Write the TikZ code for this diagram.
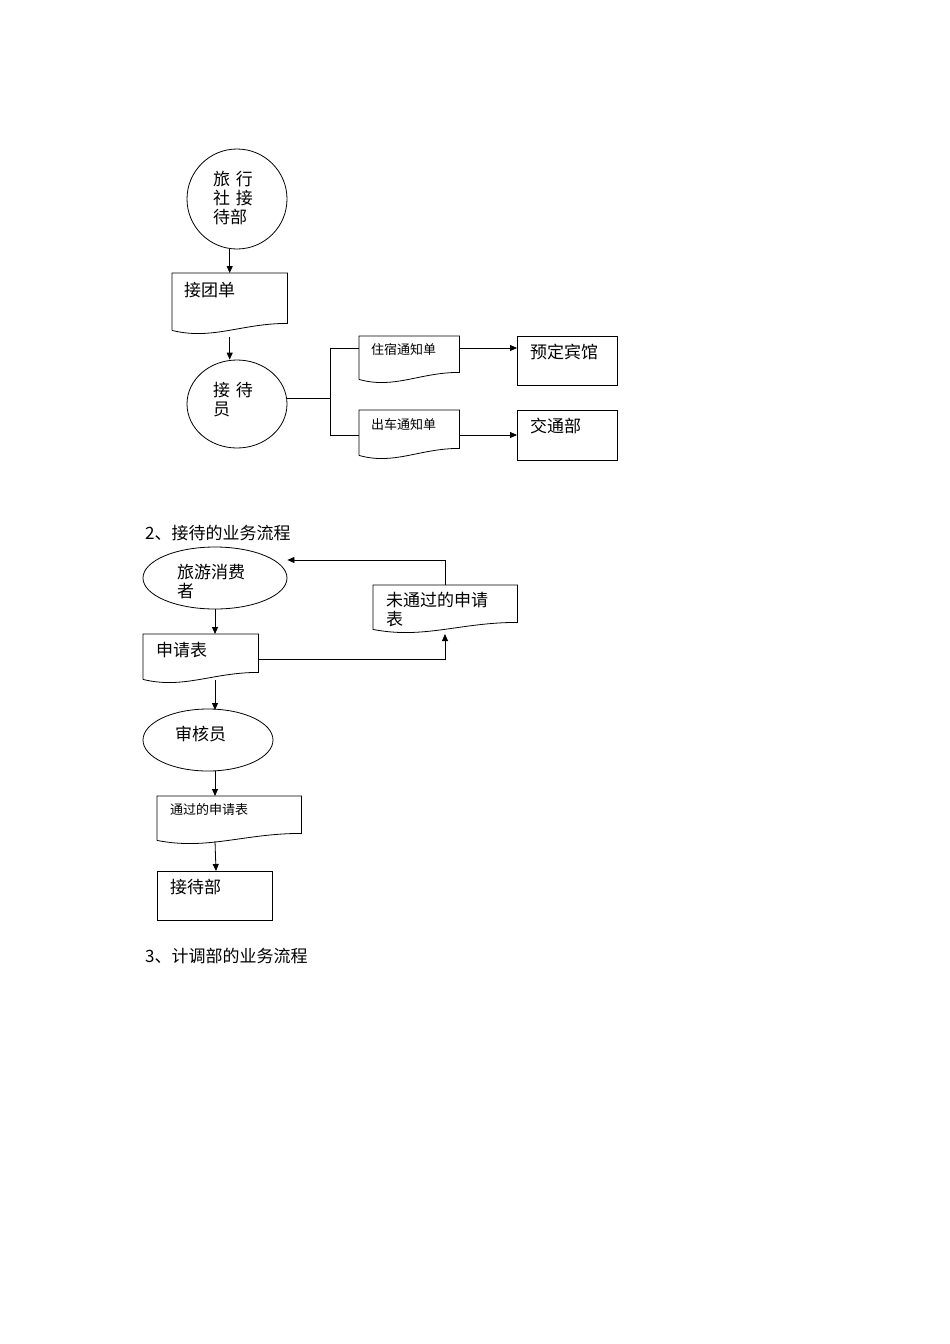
\documentclass[tikz,border=0pt]{standalone}
\usepackage{fontspec}
\setmainfont{Noto Sans CJK SC}
\usetikzlibrary{calc,arrows.meta,shapes.geometric}
\tikzset{
 arr/.style={-{Triangle[length=7pt,width=6pt]},line width=0.8pt},
 ln/.style={line width=0.8pt},
 box/.style={draw,line width=0.8pt,inner sep=0,anchor=north west},
 holder/.style={inner sep=0,anchor=north west},
 lbl/.style={anchor=north west,inner sep=0,font=\fontsize{17}{19}\selectfont,align=left},
 slbl/.style={anchor=north west,inner sep=0,font=\fontsize{13}{15}\selectfont},
}
\newcommand\mydoc[5]{% name x1 y1 x2 y2
 \node[holder,minimum width={(#4-#2)*1pt},minimum height={(#5-#3)*1pt}] (#1) at (#2,#3) {};
 \draw[ln] ($(#1.south west)+(0,-5)$) -- (#1.north west) -- (#1.north east) -- ($(#1.south east)+(0,-12)$)
  .. controls ($(#1.south west)!0.6!(#1.south east)+(0,-12)$) and ($(#1.south west)!0.35!(#1.south east)+(0,5)$) .. ($(#1.south west)+(0,-5)$);
}
\begin{document}
\begin{tikzpicture}[x=1pt,y=-1pt]
\useasboundingbox (0,0) rectangle (950,1344);
% part 1
\node[draw,circle,line width=0.8pt,minimum size=100pt,inner sep=0] (c1) at (237,199) {};
\node[lbl,align=left] (t1) at (213,171) {旅\,\,行\\社\,\,接\\待部};
\mydoc{d1}{172}{273}{287}{335}
\node[lbl] (t2) at (184,282) {接团单};
\draw[arr] (d1.north |- c1.south) -- (d1.north);
\node[draw,ellipse,line width=0.8pt,minimum width=100pt,minimum height=88pt,inner sep=0] (e1) at (237,404) {};
\node[lbl] (t3) at (213,382) {接\,\,待\\员};
\draw[arr] ($(d1.south)+(0,2)$) -- (d1.south |- e1.north);
\mydoc{d2}{359}{336}{459}{384}
\node[slbl] (t4) at (371,343) {住宿通知单};
\mydoc{d3}{359}{410}{459}{460}
\node[slbl] (t5) at (371,418) {出车通知单};
\coordinate (j) at (330,398);
\draw[ln] (e1.east |- j) -- (j);
\coordinate (ja) at (330,348);
\coordinate (jb) at (330,435);
\draw[ln] (ja) -- (jb);
\draw[ln] (ja) -- (ja -| d2.west);
\draw[ln] (jb) -- (jb -| d3.west);
\node[box,minimum width=100pt,minimum height=49pt] (b1) at (517,336) {};
\node[lbl] (t6) at (530,344) {预定宾馆};
\node[box,minimum width=100pt,minimum height=50pt] (b2) at (517,410) {};
\node[lbl] (t7) at (530,418) {交通部};
\draw[arr] (d2.east |- ja) -- (b1.west |- ja);
\draw[arr] (d3.east |- jb) -- (b2.west |- jb);
% part 2
\node[lbl] (h2) at (145,525) {2、接待的业务流程};
\node[draw,ellipse,line width=0.8pt,minimum width=144pt,minimum height=62pt,inner sep=0] (e2) at (215,578) {};
\node[lbl] (t8) at (177,564) {旅游消费\\者};
\mydoc{d4}{373}{585}{517}{634}
\node[lbl] (t9) at (386,592) {未通过的申请\\表};
\coordinate (k1) at (445,560);
\draw[arr] (d4.north -| k1) -- (k1) -- (e2.east |- k1);
\mydoc{d5}{143}{634}{258}{684}
\node[lbl] (t10) at (156,642) {申请表};
\draw[arr] (e2.south -| 215,0) -- (215,634);
\coordinate (k2) at (445,659);
\draw[arr] (d5.east |- k2) -- (k2) -- (445,634);
\node[draw,ellipse,line width=0.8pt,minimum width=130pt,minimum height=62pt,inner sep=0] (e3) at (208,740) {};
\node[lbl] (t11) at (175,726) {审核员};
\draw[arr] (215,680) -- (215,710);
\mydoc{d6}{157}{796}{301}{845}
\node[slbl] (t12) at (170,803) {通过的申请表};
\draw[arr] (215,771) -- (d6.north -| 215,0);
\node[box,minimum width=115pt,minimum height=49pt] (b3) at (157,871) {};
\node[lbl] (t13) at (170,879) {接待部};
\draw[arr] (215,841) -- (216,871);
\node[lbl] (h3) at (145,948) {3、计调部的业务流程};
\end{tikzpicture}
\end{document}
